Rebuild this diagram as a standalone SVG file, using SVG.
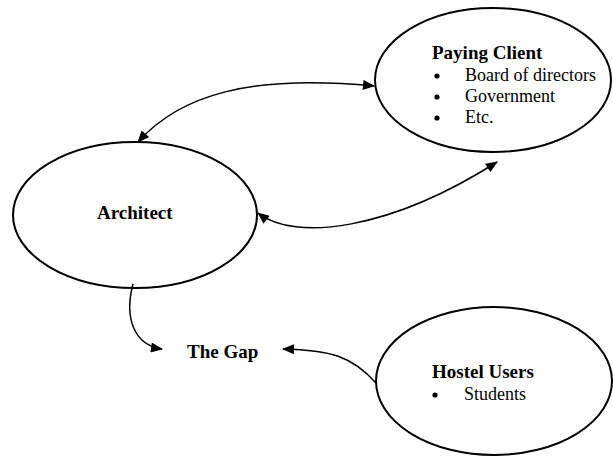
<svg xmlns="http://www.w3.org/2000/svg" width="613" height="457" viewBox="0 0 613 457">
  <style>
    .node { fill: #fff; stroke: #000; stroke-width: 2; }
    .title { font-family: "Liberation Serif", serif; font-weight: bold; font-size: 19px; fill: #000; }
    .item { font-family: "Liberation Serif", serif; font-size: 18px; fill: #000; }
    .link { fill: none; stroke: #000; stroke-width: 1.5; }
  </style>
  <defs>
    <marker id="head" viewBox="0 0 12 10" refX="11" refY="5" markerWidth="13" markerHeight="10" markerUnits="userSpaceOnUse" orient="auto-start-reverse">
      <path d="M0,0 L12,5 L0,10 Z" fill="#000"/>
    </marker>
  </defs>
  <rect width="613" height="457" fill="#fff"/>

  <g id="paying-client">
    <ellipse class="node" cx="493" cy="80" rx="118" ry="72"/>
    <text class="title" x="432" y="59">Paying Client</text>
    <circle cx="437" cy="76" r="2.6"/>
    <text class="item" x="465" y="81">Board of directors</text>
    <circle cx="437" cy="97" r="2.6"/>
    <text class="item" x="465" y="102">Government</text>
    <circle cx="437" cy="118" r="2.6"/>
    <text class="item" x="465" y="123">Etc.</text>
  </g>

  <g id="architect">
    <ellipse class="node" cx="135" cy="215" rx="122" ry="73"/>
    <text class="title" x="97" y="219">Architect</text>
  </g>

  <g id="the-gap">
    <text class="title" x="187" y="358">The Gap</text>
  </g>

  <g id="hostel-users">
    <ellipse class="node" cx="494" cy="381" rx="118" ry="74"/>
    <text class="title" x="432" y="378">Hostel Users</text>
    <circle cx="435" cy="395" r="2.6"/>
    <text class="item" x="464" y="400">Students</text>
  </g>

  <g id="connectors">
    <path class="link" d="M138,142 C180,95 250,74 374,86" marker-start="url(#head)" marker-end="url(#head)"/>
    <path class="link" d="M258,213 C295,242 390,230 497,162" marker-start="url(#head)" marker-end="url(#head)"/>
    <path class="link" d="M133,284 C124,318 134,345 162,349" marker-end="url(#head)"/>
    <path class="link" d="M376,383 C352,356 330,350 283,349" marker-end="url(#head)"/>
  </g>
</svg>
